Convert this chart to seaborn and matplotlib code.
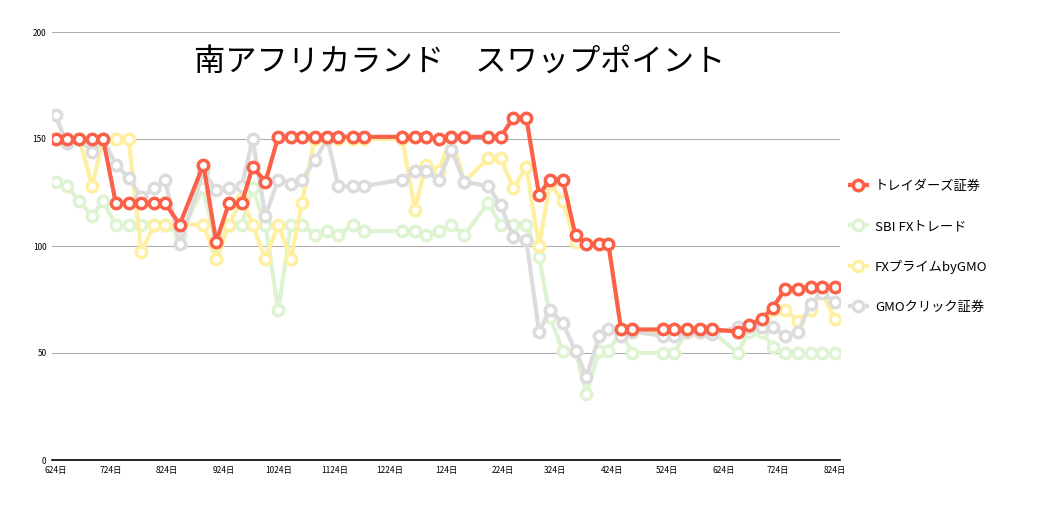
import matplotlib
matplotlib.use("Agg")
import matplotlib.pyplot as plt
import seaborn as sns
import pandas as pd

start = "2019-06-24"
days = [0, 6, 13, 20, 26, 33, 40, 47, 54, 60, 68, 81, 88, 95, 102, 108, 115, 122, 129, 135,
        142, 149, 155, 163, 169, 190, 197, 203, 210, 217, 224, 237, 244, 251, 258, 265, 271, 278,
        285, 291, 298, 303, 310, 316, 333, 339, 346, 353, 360, 374, 380, 387, 393, 400, 407, 414,
        420, 427]

red = [150, 150, 150, 150, 150, 120, 120, 120, 120, 120, 110, 138, 102, 120, 120, 137, 130,
       151, 151, 151, 151, 151, 151, 151, 151, 151, 151, 151, 150, 151, 151, 151, 151, 160, 160,
       124, 131, 131, 105, 101, 101, 101, 61, 61, 61, 61, 61, 61, 61, 60, 63, 66, 71, 80, 80, 81, 81, 81]
green = [130, 128, 121, 114, 121, 110, 110, 110, 110, 110, 105, 127, 100, 110, 110, 127, 110, 70,
         110, 110, 105, 107, 105, 110, 107, 107, 107, 105, 107, 110, 105, 120, 110, 110, 110, 95, 67,
         51, 51, 31, 51, 51, 60, 50, 50, 50, 60, 60, 60, 50, 60, 60, 53, 50, 50, 50, 50, 50]
yellow = [150, 150, 150, 128, 150, 150, 150, 97, 110, 110, 110, 110, 94, 110, 122, 110, 94, 110,
          94, 120, 150, 150, 150, 150, 150, 150, 117, 138, 135, 151, 130, 141, 141, 127, 137, 100,
          129, 121, 102, 101, 101, 101, 61, 60, 60, 60, 60, 60, 60, 61, 62, 62, 70, 70, 65, 70, 79, 66]
gray = [161, 148, 150, 144, 150, 138, 132, 123, 127, 131, 101, 135, 126, 127, 128, 150, 114, 131,
        129, 131, 140, 150, 128, 128, 128, 131, 135, 135, 131, 145, 130, 128, 119, 104, 103, 60,
        70, 64, 51, 39, 58, 61, 58, 60, 58, 58, 60, 60, 59, 62, 62, 62, 62, 58, 60, 73, 78, 74]

names = ["トレイダーズ証券", "SBI FXトレード", "FXプライムbyGMO", "GMOクリック証券"]
colors = ["#FA6148", "#DDF3D2", "#FFEFA0", "#DCDCDC"]
tick_dates = pd.date_range("2019-06-01", "2020-08-24", freq="MS") + pd.Timedelta(days=23)
tick_labels = [f"{d.month}{d.day}日" for d in tick_dates]

dates = pd.to_datetime(start) + pd.to_timedelta(days, unit="D")
series = dict(zip(names, [red, green, yellow, gray]))

plt.rcParams["font.family"] = "Noto Sans CJK JP"
fig = plt.figure(figsize=(10.54, 5.16), dpi=100)
ax = fig.add_axes([52 / 1054, 1 - 460 / 516, (840 - 52) / 1054, (460 - 32) / 516])

for idx in [1, 2, 3, 0]:
    nm = names[idx]
    df = pd.DataFrame({"date": dates, "v": series[nm]})
    sns.lineplot(data=df, x="date", y="v", ax=ax, color=colors[idx], lw=3, marker="o",
                 markersize=7.5, markerfacecolor="white", markeredgecolor=colors[idx],
                 markeredgewidth=2.5, label=nm, zorder=3 + (idx == 0))
h, l = ax.get_legend_handles_labels()
hd = dict(zip(l, h))
ax.get_legend().remove()
fig.legend([hd[n] for n in names], names, loc="upper left", bbox_to_anchor=(838 / 1054, 1 - 168 / 516),
           frameon=False, fontsize=9.5, labelspacing=2.05, handlelength=1.3, handletextpad=0.6)

ax.set_xlim(pd.Timestamp("2019-06-24") - pd.Timedelta(days=2), pd.Timestamp("2020-08-24") + pd.Timedelta(days=3))
ax.set_ylim(0, 200)
ax.set_yticks([0, 50, 100, 150, 200])
ax.set_xticks(tick_dates)
ax.set_xticklabels(tick_labels)
ax.tick_params(axis="both", labelsize=6, length=0, pad=4)
ax.grid(axis="y", color="#B0B0B0", lw=0.8)
ax.set_axisbelow(True)
for s in ["top", "right", "left"]:
    ax.spines[s].set_visible(False)
ax.spines["bottom"].set_color("black")
ax.spines["bottom"].set_linewidth(1.2)
ax.set_xlabel("")
ax.set_ylabel("")
fig.text(460 / 1054, 1 - 63 / 516, "南アフリカランド　スワップポイント", fontsize=22.5,
         ha="center", va="center")
fig.savefig("out.png", dpi=100)
